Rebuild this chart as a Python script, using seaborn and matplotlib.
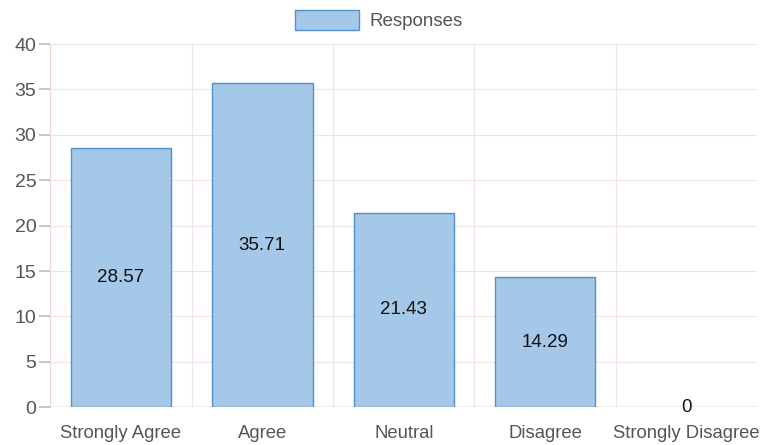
import matplotlib
matplotlib.use('Agg')
import matplotlib.pyplot as plt
import seaborn as sns

# data
categories = ['Strongly Agree', 'Agree', 'Neutral', 'Disagree', 'Strongly Disagree']
responses = [28.57, 35.71, 21.43, 14.29, 0]
value_labels = ['28.57', '35.71', '21.43', '14.29', '0']
y_ticks = [0, 5, 10, 15, 20, 25, 30, 35, 40]

sns.set_theme(style='white')
plt.rcParams['font.family'] = ['Liberation Sans', 'DejaVu Sans']

fig = plt.figure(figsize=(7.72, 4.45), dpi=100)
ax = fig.add_axes([0.065, 0.085, 0.916, 0.816])

sns.barplot(x=categories, y=responses, color='#a6c8e8', edgecolor='#4f8fd2',
            linewidth=1.0, width=0.71, saturation=1, label='Responses', ax=ax)

# no outline on the empty bar
ax.containers[0][4].set_linewidth(0)

# value labels in the middle of each bar
ax.bar_label(ax.containers[0], labels=value_labels, label_type='center',
             fontsize=13.5, color='#111111')

ax.set_ylim(0, 40)
ax.set_yticks(y_ticks)
ax.set_xlim(-0.5, 4.5)

# faint grid: horizontal on y ticks, vertical on category boundaries
for t in y_ticks[1:]:
    ax.axhline(t, color='#f1e2e5', linewidth=0.8, zorder=0)
for b in [0.5, 1.5, 2.5, 3.5]:
    ax.axvline(b, color='#f1e2e5', linewidth=0.8, zorder=0)
ax.axhline(0, color='#b9a8ac', linewidth=1.0, zorder=3)

for s in ['top', 'right', 'bottom']:
    ax.spines[s].set_visible(False)
ax.spines['left'].set_color('#e8d6d9')
ax.spines['left'].set_linewidth(0.8)

ax.tick_params(axis='y', which='both', left=True, length=8, color='#c9b8bb',
               labelsize=14, labelcolor='#555555', pad=2)
ax.tick_params(axis='x', bottom=False, labelsize=13.3, labelcolor='#555555', pad=7)
ax.set_xlabel('')
ax.set_ylabel('')

ax.legend(loc='upper center', bbox_to_anchor=(0.465, 1.14), frameon=False,
          fontsize=13.5, labelcolor='#555555', handlelength=3.4, handleheight=1.25,
          handletextpad=0.6)

plt.savefig('out.png', dpi=100, facecolor='white')
